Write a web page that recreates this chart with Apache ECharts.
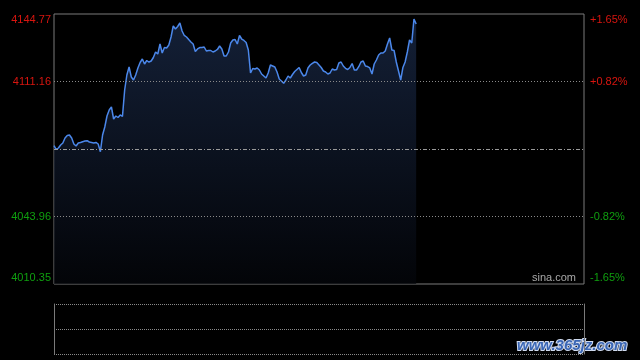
<!DOCTYPE html>
<html>
<head>
<meta charset="utf-8">
<script src="https://cdn.jsdelivr.net/npm/echarts@6/dist/echarts.min.js"></script>
<style>html,body{margin:0;padding:0;background:#000;}#c{width:640px;height:360px;}</style>
</head>
<body>
<div id="c"></div>
<script>
// ---- data ----
const prevClose = 4077.56;
const yMin = 4010.35;
const yMax = 4144.77;
const priceTicks = [4010.35, 4043.96, 4111.16, 4144.77];
const dottedLevels = [4043.96, 4111.16];

// trading minutes 9:30-11:30, 13:01-15:00
const categories = [];
(function(){
  function pad(n){return (n<10?'0':'')+n;}
  for (let m = 9*60+30; m <= 11*60+30; m++) categories.push(Math.floor(m/60)+':'+pad(m%60));
  for (let m = 13*60+1; m <= 15*60; m++) categories.push(Math.floor(m/60)+':'+pad(m%60));
})();

const prices = [
4079.20,4077.31,4078.06,4079.55,4080.55,4083.04,4084.28,4084.53,4083.04,4080.05,
4079.05,4080.55,4080.80,4081.20,4081.54,4081.69,4081.05,4080.80,4080.55,4080.80,
4080.05,4076.22,4084.53,4088.51,4093.99,4096.98,4098.47,4092.50,4093.99,4093.24,
4094.49,4093.74,4106.93,4114.40,4118.38,4113.41,4111.91,4114.40,4117.89,4120.62,
4122.37,4119.88,4121.62,4120.87,4121.37,4123.11,4125.85,4124.86,4129.83,4125.35,
4128.09,4127.84,4129.34,4133.32,4138.80,4137.30,4138.55,4140.29,4136.31,4134.07,
4133.32,4132.07,4130.83,4129.83,4126.10,4127.35,4128.09,4128.09,4128.34,4126.35,
4126.60,4126.60,4125.85,4126.35,4127.10,4128.84,4127.35,4123.86,4123.86,4125.85,
4130.33,4131.83,4132.07,4129.83,4134.07,4132.32,4131.58,4130.58,4126.85,4115.40,
4117.64,4117.39,4117.89,4116.89,4114.90,4113.90,4112.91,4115.40,4119.38,4118.88,
4118.38,4115.89,4112.41,4111.41,4110.27,4111.91,4113.90,4112.91,4114.65,4116.14,
4117.14,4118.14,4115.65,4113.90,4114.40,4117.89,4119.38,4120.23,4120.87,4120.62,
4119.38,4118.14,4116.39,4115.89,4114.90,4115.40,4117.39,4116.89,4117.14,4120.38,
4120.87,4118.88,4117.74,4117.14,4118.14,4120.13,4116.89,4116.89,4118.53,4120.87,
4121.37,4118.88,4118.63,4117.89,4114.90,4119.88,4121.87,4124.36,4125.35,4125.35,
4126.35,4129.83,4132.82,4126.85,4126.60,4120.87,4116.39,4111.91,4118.14,4120.87,
4125.85,4131.83,4130.33,4142.28,4139.79
];
const volumes = [];

// ---- chart ----
const FONT = '"Liberation Sans", Arial, sans-serif';
const RED = '#d8150f';
const GREEN = '#0f9f0f';
const chart = echarts.init(document.getElementById('c'), null, {renderer: 'canvas'});

function priceLabel(v){
  const s = v.toFixed(2);
  if (Math.abs(v - yMax) < 0.01) return '{upTop|' + s + '}';
  if (Math.abs(v - yMin) < 0.01) return '{dnBot|' + s + '}';
  return v > prevClose ? '{up|' + s + '}' : '{dn|' + s + '}';
}
function pctLabel(v){
  const p = (v - prevClose) / prevClose * 100;
  const s = (p > 0 ? '+' : '') + p.toFixed(2) + '%';
  if (Math.abs(v - yMax) < 0.01) return '{upTop|' + s + '}';
  if (Math.abs(v - yMin) < 0.01) return '{dnBot|' + s + '}';
  return p > 0 ? '{up|' + s + '}' : '{dn|' + s + '}';
}
const rich = {
  up: {color: RED, fontSize: 11, fontFamily: FONT},
  dn: {color: GREEN, fontSize: 11, fontFamily: FONT},
  upTop: {color: RED, fontSize: 11, fontFamily: FONT, padding: [12, 0, 0, 0]},
  dnBot: {color: GREEN, fontSize: 11, fontFamily: FONT, padding: [0, 0, 12, 0]}
};

chart.setOption({
  backgroundColor: '#000',
  animation: false,
  grid: [
    {left: 54, right: 56, top: 14, height: 270, show: true, borderColor: '#7a7a7a', borderWidth: 1, backgroundColor: 'transparent'},
    {left: 54, right: 56, top: 304, height: 50, show: false}
  ],
  xAxis: [
    {type: 'category', gridIndex: 0, data: categories, boundaryGap: false,
     axisLine: {show: false}, axisTick: {show: false}, axisLabel: {show: false}, splitLine: {show: false}},
    {type: 'category', gridIndex: 1, data: categories, boundaryGap: false,
     axisLine: {show: false}, axisTick: {show: false}, axisLabel: {show: false}, splitLine: {show: false}}
  ],
  yAxis: [
    {type: 'value', gridIndex: 0, position: 'left', min: yMin, max: yMax,
     axisLine: {show: false}, axisTick: {show: false}, splitLine: {show: false},
     axisLabel: {show: true, customValues: priceTicks, formatter: priceLabel, rich: rich, margin: 3,
                 showMinLabel: true, showMaxLabel: true}},
    {type: 'value', gridIndex: 0, position: 'right', min: yMin, max: yMax,
     axisLine: {show: false}, axisTick: {show: false}, splitLine: {show: false},
     axisLabel: {show: true, customValues: priceTicks, formatter: pctLabel, rich: rich, margin: 6,
                 showMinLabel: true, showMaxLabel: true}},
    {type: 'value', gridIndex: 1, position: 'left', min: 0, max: 2, interval: 1,
     axisLine: {show: true, lineStyle: {color: '#7a7a7a', width: 1}}, axisTick: {show: false},
     axisLabel: {show: false},
     splitLine: {show: true, lineStyle: {color: '#8a8a8a', type: [1, 1], width: 1}}},
    {type: 'value', gridIndex: 1, position: 'right', min: 0, max: 2, interval: 1,
     axisLine: {show: true, lineStyle: {color: '#7a7a7a', width: 1}}, axisTick: {show: false},
     axisLabel: {show: false}, splitLine: {show: false}}
  ],
  series: [
    {
      type: 'line', xAxisIndex: 0, yAxisIndex: 0, data: prices,
      symbol: 'none', smooth: false,
      lineStyle: {color: '#4b87ea', width: 1.5},
      areaStyle: {
        origin: 'start',
        color: new echarts.graphic.LinearGradient(0, 0, 0, 1, [
          {offset: 0, color: '#1c2d4e'},
          {offset: 1, color: '#04060b'}
        ])
      },
      markLine: {
        silent: true, symbol: 'none', label: {show: false}, animation: false,
        data: [
          {yAxis: prevClose, lineStyle: {color: '#9a9a9a', width: 1, type: [4, 2, 1, 2]}}
        ].concat(dottedLevels.map(v => ({yAxis: v, lineStyle: {color: '#8a8a8a', width: 1, type: [1, 2]}})))
      },
      z: 3
    },
    {type: 'bar', xAxisIndex: 1, yAxisIndex: 2, data: volumes}
  ],
  graphic: [
    {type: 'text', left: 532, top: 272, silent: true,
     style: {text: 'sina.com', fill: '#a8a8a8', font: '11px ' + FONT}},
    {type: 'text', left: 516, top: 337, silent: true,
     style: {text: 'www.365jz.com', fill: '#3a66b4', stroke: '#d0dbf0', lineWidth: 2,
             font: 'bold italic 15px ' + FONT}}
  ]
});
</script>
</body>
</html>
